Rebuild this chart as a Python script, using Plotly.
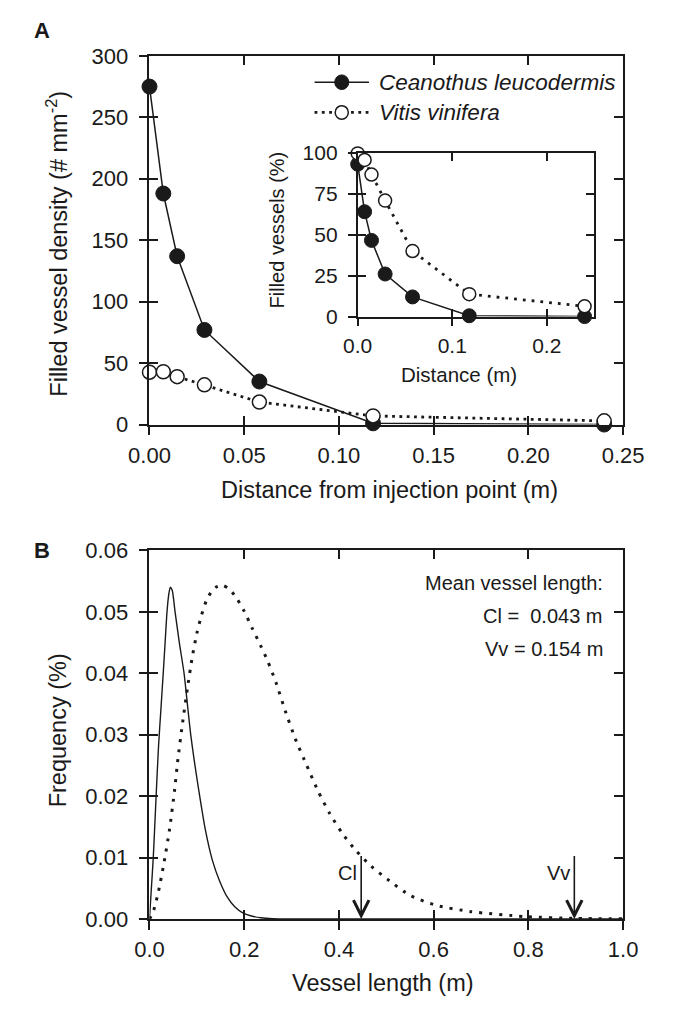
import plotly.graph_objects as go

W, H = 676, 1012
FONT = "Liberation Sans, Arial, sans-serif"
INK = "#1a1a1a"

# ---------------- Panel A data ----------------
distance_m = [0, 0.0073, 0.0146, 0.029, 0.058, 0.118, 0.24]
cl_density = [275, 188, 137, 77, 35, 1, 0]
vv_density = [42.6, 43, 39, 32.3, 18.3, 7, 3]
# inset: filled vessels (%)
cl_filled_pct = [93, 64, 46.5, 26, 12, 0.5, 0]
vv_filled_pct = [99.6, 95.6, 86.7, 70.8, 40, 13.7, 6.3]

# ---------------- Panel B data ----------------
cl_length = [0, 0.004, 0.008, 0.014, 0.019, 0.024, 0.029, 0.033, 0.037, 0.041, 0.044,
             0.048, 0.054, 0.063, 0.073, 0.080, 0.087, 0.096, 0.106, 0.118, 0.133,
             0.148, 0.164, 0.180, 0.197, 0.215, 0.235, 0.26, 0.30, 1.0]
cl_freq = [0, 0.005, 0.010, 0.020, 0.028, 0.034, 0.040, 0.045, 0.050, 0.053, 0.054,
           0.0535, 0.050, 0.045, 0.040, 0.035, 0.030, 0.025, 0.020, 0.0145, 0.0095,
           0.0062, 0.0036, 0.0020, 0.0010, 0.0005, 0.0002, 0.00005, 0, 0]
vv_length = [0, 0.008, 0.019, 0.030, 0.042, 0.053, 0.060, 0.070, 0.080, 0.090, 0.100,
             0.110, 0.120, 0.130, 0.140, 0.155, 0.170, 0.185, 0.200, 0.217, 0.234,
             0.250, 0.267, 0.287, 0.308, 0.332, 0.356, 0.381, 0.4075, 0.434, 0.468,
             0.502, 0.551, 0.607, 0.679, 0.792, 0.90, 1.0]
vv_freq = [0, 0.0012, 0.0045, 0.0089, 0.0144, 0.021, 0.026, 0.032, 0.0375, 0.0425,
           0.0465, 0.0495, 0.0518, 0.0532, 0.0540, 0.0543, 0.0536, 0.0521, 0.0501,
           0.0473, 0.0446, 0.0419, 0.0385, 0.0338, 0.0293, 0.0250, 0.0208, 0.0171,
           0.0139, 0.0113, 0.0086, 0.0065, 0.0038, 0.0022, 0.0012, 0.0004, 0.0001, 0.00003]

mean_labels = ["Mean vessel length:", "Cl =\u00a0 0.043 m", "Vv = 0.154 m"]
arrow_x = [0.447, 0.897]
arrow_names = ["Cl", "Vv"]
arrow_top = 0.0105
species = ["Ceanothus leucodermis", "Vitis vinifera"]


def px(x):
    return x / W


def py(y):
    return 1 - y / H


dom_x = [px(137), px(642)]
dom_yA = [py(423), py(45)]
dom_yB = [py(930), py(552)]
dom_xI = [px(359), px(611)]
dom_yI = [py(312.3), py(144.3)]

fig = go.Figure()

# Panel A main
fig.add_trace(go.Scatter(x=distance_m, y=cl_density, mode="lines+markers",
                         line=dict(color=INK, width=1.5),
                         marker=dict(symbol="circle", size=15, color=INK, line=dict(color=INK, width=1)),
                         cliponaxis=False, showlegend=False, xaxis="x", yaxis="y"))
fig.add_trace(go.Scatter(x=distance_m, y=vv_density, mode="lines+markers",
                         line=dict(color=INK, width=2.8, dash="2.8px,4.5px"),
                         marker=dict(symbol="circle", size=14, color="white", line=dict(color=INK, width=1.5)),
                         cliponaxis=False, showlegend=False, xaxis="x", yaxis="y"))

# Inset
fig.add_trace(go.Scatter(x=distance_m, y=cl_filled_pct, mode="lines+markers",
                         line=dict(color=INK, width=1.5),
                         marker=dict(symbol="circle", size=14, color=INK, line=dict(color=INK, width=1)),
                         cliponaxis=False, showlegend=False, xaxis="x3", yaxis="y3"))
fig.add_trace(go.Scatter(x=distance_m, y=vv_filled_pct, mode="lines+markers",
                         line=dict(color=INK, width=2.8, dash="2.8px,6px"),
                         marker=dict(symbol="circle", size=13, color="white", line=dict(color=INK, width=1.5)),
                         cliponaxis=False, showlegend=False, xaxis="x3", yaxis="y3"))

# Panel B
fig.add_trace(go.Scatter(x=cl_length, y=cl_freq, mode="lines",
                         line=dict(color=INK, width=1.4, shape="spline", smoothing=0.6),
                         showlegend=False, xaxis="x2", yaxis="y2"))
fig.add_trace(go.Scatter(x=vv_length, y=vv_freq, mode="lines",
                         line=dict(color=INK, width=3, shape="spline", smoothing=0.6, dash="3px,7px"),
                         showlegend=False, xaxis="x2", yaxis="y2"))

# helper (empty) traces for overlay tick axes
for xa, ya in [("x4", "y4"), ("x5", "y5"), ("x6", "y6")]:
    fig.add_trace(go.Scatter(x=[None], y=[None], mode="markers", showlegend=False,
                             hoverinfo="skip", xaxis=xa, yaxis=ya))

tickfont = dict(family=FONT, size=22, color=INK)
tickfont_i = dict(family=FONT, size=21, color=INK)


def base_axis(domain, anchor, rng, dtick, fmt, font, tick_len=9, standoff=4):
    return dict(domain=domain, anchor=anchor, range=rng, dtick=dtick, tick0=0,
                tickformat=fmt, ticks="outside", ticklen=tick_len, tickwidth=1.8,
                tickcolor=INK, showline=True, linecolor=INK, linewidth=1.8,
                mirror=True, showgrid=False, zeroline=False, tickfont=font,
                ticklabelstandoff=standoff, fixedrange=True)


def overlay_axis(over, anchor, rng, dtick, tick_len=9):
    return dict(overlaying=over, anchor=anchor, range=rng, dtick=dtick, tick0=0,
                ticks="inside", ticklen=tick_len, tickwidth=1.8, tickcolor=INK,
                mirror="ticks", showline=False, showgrid=False, zeroline=False,
                showticklabels=False, fixedrange=True)


rA_x = [0, 0.25]
rA_y = [0, 300]
rB_x = [0, 1.0]
rB_y = [0, 0.06]
rI_x = [0, 0.25]
rI_y = [0, 100]

fig.update_layout(
    width=W, height=H,
    margin=dict(l=0, r=0, t=0, b=0),
    paper_bgcolor="white", plot_bgcolor="rgba(0,0,0,0)",
    font=dict(family=FONT, color=INK),
    xaxis=base_axis(dom_x, "y", rA_x, 0.05, ".2f", tickfont, standoff=1),
    yaxis=base_axis(dom_yA, "x", rA_y, 50, "d", tickfont, standoff=6),
    xaxis2=base_axis(dom_x, "y2", rB_x, 0.2, ".1f", tickfont, standoff=1),
    yaxis2=base_axis(dom_yB, "x2", rB_y, 0.01, ".2f", tickfont, standoff=6),
    xaxis3=base_axis(dom_xI, "y3", rI_x, 0.1, ".1f", tickfont_i, tick_len=8, standoff=1),
    yaxis3=base_axis(dom_yI, "x3", rI_y, 25, "d", tickfont_i, tick_len=8, standoff=6),
    xaxis4=overlay_axis("x", "y4", rA_x, 0.05),
    yaxis4=overlay_axis("y", "x4", rA_y, 50),
    xaxis5=overlay_axis("x2", "y5", rB_x, 0.2),
    yaxis5=overlay_axis("y2", "x5", rB_y, 0.01),
    xaxis6=overlay_axis("x3", "y6", rI_x, 0.1, 8),
    yaxis6=overlay_axis("y3", "x6", rI_y, 25, 8),
)


def note(text, x, y, size=23.5, angle=0, xanchor="center", yanchor="middle"):
    return dict(text=text, x=px(x), y=py(y), xref="paper", yref="paper",
                xanchor=xanchor, yanchor=yanchor, textangle=angle, showarrow=False,
                font=dict(family=FONT, size=size, color=INK))


ann = []
ann.append(note("<b>A</b>", 22, 19, size=22))
ann.append(note("<b>B</b>", 22, 552, size=22))
ann.append(note("Filled vessel density (# mm<sup>-2</sup>)", 39, 238, angle=-90))
ann.append(note("Distance from injection point (m)", 393, 490))
ann.append(note("Frequency (%)", 39, 737, angle=-90))
ann.append(note("Vessel length (m)", 386, 996))
ann.append(note("Filled vessels (%)", 274, 223, size=20, angle=-90))
ann.append(note("Distance (m)", 467, 372, size=20.5))
for i, name in enumerate(species):
    ann.append(note(f"<i>{name}</i>", 380, 72 + 31 * i, size=22.5, xanchor="left"))
for i, t in enumerate(mean_labels):
    ann.append(note(t, 623, 585 + 34 * i, size=20, xanchor="right"))
for ax_x, nm in zip(arrow_x, arrow_names):
    ann.append(dict(x=ax_x, y=0, ax=ax_x, ay=arrow_top, xref="x2", yref="y2",
                    axref="x2", ayref="y2", text="", showarrow=True, arrowhead=5,
                    arrowsize=1.9, arrowwidth=1.6, arrowcolor=INK))
    ann.append(dict(x=ax_x, y=0.0075, xref="x2", yref="y2", text=nm, showarrow=False,
                    xanchor="right", yanchor="middle", xshift=-2,
                    font=dict(family=FONT, size=20, color=INK)))
fig.update_layout(annotations=ann)

# legend samples (drawn as shapes)
shapes = []
shapes.append(dict(type="line", xref="paper", yref="paper", x0=px(313), x1=px(371),
                   y0=py(72), y1=py(72), line=dict(color=INK, width=1.5)))
shapes.append(dict(type="line", xref="paper", yref="paper", x0=px(313), x1=px(371),
                   y0=py(103), y1=py(103), line=dict(color=INK, width=2.8, dash="2.8px,4.5px")))
shapes.append(dict(type="circle", xref="paper", yref="paper", x0=px(334.5), x1=px(349.5),
                   y0=py(79.5), y1=py(64.5), fillcolor=INK, line=dict(color=INK, width=1)))
shapes.append(dict(type="circle", xref="paper", yref="paper", x0=px(335), x1=px(349),
                   y0=py(110), y1=py(96), fillcolor="white", line=dict(color=INK, width=1.5)))
fig.update_layout(shapes=shapes)

fig.write_html("out.html")
